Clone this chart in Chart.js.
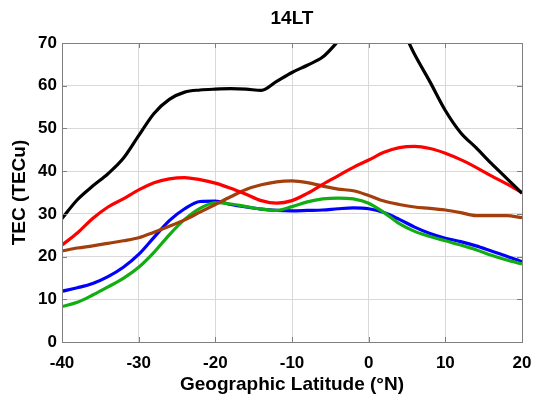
<!DOCTYPE html>
<html>
<head>
<meta charset="utf-8">
<script src="https://cdn.jsdelivr.net/npm/chart.js@4/dist/chart.umd.min.js"></script>
<style>
html,body{margin:0;padding:0;background:#fff;}
#wrap{width:537px;height:400px;}
</style>
</head>
<body>
<div id="wrap"><canvas id="c" width="537" height="400"></canvas></div>
<script>
const latitudes = [-40,-38,-36,-34,-32,-30,-28,-26,-24,-22,-20,-18,-16,-14,-12,-10,-8,-6,-4,-2,0,2,4,6,8,10,12,14,16,18,20];
const blackTEC = [28.9,33.3,36.5,39.4,43.0,48.3,53.5,56.8,58.5,59.0,59.2,59.3,59.2,58.9,61.0,63.1,64.8,66.7,70.4,74.5,78.0,79.0,74.5,67.3,60.9,54.2,49.0,45.5,41.8,38.3,34.8];
const redTEC = [22.7,25.5,28.9,31.6,33.5,35.6,37.3,38.2,38.5,38.0,37.2,36.0,34.6,33.1,32.5,33.1,34.8,36.9,38.9,40.9,42.6,44.4,45.5,45.8,45.3,44.2,42.7,40.9,38.9,37.0,35.0];
const brownTEC = [21.3,22.0,22.5,23.1,23.7,24.4,25.7,27.1,28.6,30.4,32.2,34.0,35.7,36.8,37.5,37.7,37.3,36.5,35.8,35.4,34.3,33.0,32.2,31.6,31.3,30.9,30.3,29.6,29.6,29.6,29.1];
const blueTEC = [11.9,12.7,13.7,15.3,17.5,20.5,24.5,28.4,31.2,32.9,33.0,32.2,31.6,31.1,30.8,30.7,30.8,30.9,31.2,31.4,31.2,30.3,28.7,26.9,25.4,24.3,23.5,22.5,21.3,20.1,18.8];
const greenTEC = [8.3,9.3,11.0,12.9,14.9,17.5,21.0,25.1,28.7,31.3,32.6,32.3,31.7,31.1,30.8,31.7,32.8,33.5,33.7,33.5,32.5,30.3,27.7,25.9,24.7,23.7,22.7,21.6,20.3,19.2,18.3];
const xTicks = [-40,-30,-20,-10,0,10,20];
const yTicks = [0,10,20,30,40,50,60,70];

function pts(vals){ return latitudes.map((x,i)=>({x:x,y:vals[i]})); }
function ds(vals,color,order){
  return {data:pts(vals),borderColor:color,backgroundColor:color,borderWidth:3.2,pointRadius:0,
    tension:0.4,cubicInterpolationMode:'monotone',fill:false,order:order,clip:0,xAxisID:'x',yAxisID:'y'};
}

const frame = {
  id:'frame',
  afterDatasetsDraw(chart){
    const {ctx,chartArea:a,scales:{x,y}} = chart;
    ctx.save();
    ctx.strokeStyle='#7f7f7f';
    ctx.lineWidth=1;
    ctx.beginPath();
    xTicks.forEach(v=>{const p=Math.round(x.getPixelForValue(v))+0.5;
      ctx.moveTo(p,a.bottom);ctx.lineTo(p,a.bottom-5);
      ctx.moveTo(p,a.top);ctx.lineTo(p,a.top+5);});
    yTicks.forEach(v=>{const p=Math.round(y.getPixelForValue(v))+0.5;
      ctx.moveTo(a.left,p);ctx.lineTo(a.left+5,p);
      ctx.moveTo(a.right,p);ctx.lineTo(a.right-5,p);});
    ctx.stroke();
    ctx.strokeRect(Math.round(a.left)+0.5,Math.round(a.top)+0.5,Math.round(a.right-a.left),Math.round(a.bottom-a.top));
    ctx.restore();
  }
};

const FONT = 'Arial, "Liberation Sans", sans-serif';
new Chart(document.getElementById('c'),{
  type:'line',
  data:{datasets:[
    ds(blackTEC,'#000000',1),
    ds(redTEC,'#ff0000',2),
    ds(brownTEC,'#a33f0c',3),
    ds(greenTEC,'#12ad12',4),
    ds(blueTEC,'#0000ff',5)
  ]},
  options:{
    responsive:false,animation:false,
    layout:{padding:{left:0,right:15,top:0,bottom:0}},
    plugins:{legend:{display:false},tooltip:{enabled:false},title:{display:false}},
    scales:{
      x:{type:'linear',position:'bottom',min:-40,max:20,
        afterBuildTicks(s){s.ticks=xTicks.map(v=>({value:v}));},
        afterFit(s){s.height=58;s.paddingLeft=0;s.paddingRight=0;},
        border:{display:false},
        grid:{color:'#d9d9d9',borderDash:[2,2],drawTicks:false,lineWidth:1},
        ticks:{color:'#000',font:{family:FONT,size:17,weight:'bold'},padding:11,maxRotation:0,autoSkip:false},
        title:{display:true,text:'Geographic Latitude (°N)',color:'#000',font:{family:FONT,size:19,weight:'bold'},padding:{top:0,bottom:4}}
      },
      xTop:{type:'linear',position:'top',min:-40,max:20,
        afterFit(s){s.height=43;s.paddingLeft=0;s.paddingRight=0;},
        border:{display:false},
        grid:{display:false,drawTicks:false},
        ticks:{display:false},
        title:{display:true,text:'14LT',color:'#000',font:{family:FONT,size:19,weight:'bold'},padding:{top:7,bottom:0}}
      },
      y:{type:'linear',min:0,max:70,
        afterBuildTicks(s){s.ticks=yTicks.map(v=>({value:v}));},
        afterFit(s){s.width=62;},
        border:{display:false},
        grid:{color:'#d9d9d9',borderDash:[2,2],drawTicks:false,lineWidth:1},
        ticks:{color:'#000',font:{family:FONT,size:17,weight:'bold'},padding:5,autoSkip:false},
        title:{display:true,text:'TEC (TECu)',color:'#000',font:{family:FONT,size:19,weight:'bold'},padding:{top:8,bottom:0}}
      }
    }
  },
  plugins:[frame]
});
</script>
</body>
</html>
